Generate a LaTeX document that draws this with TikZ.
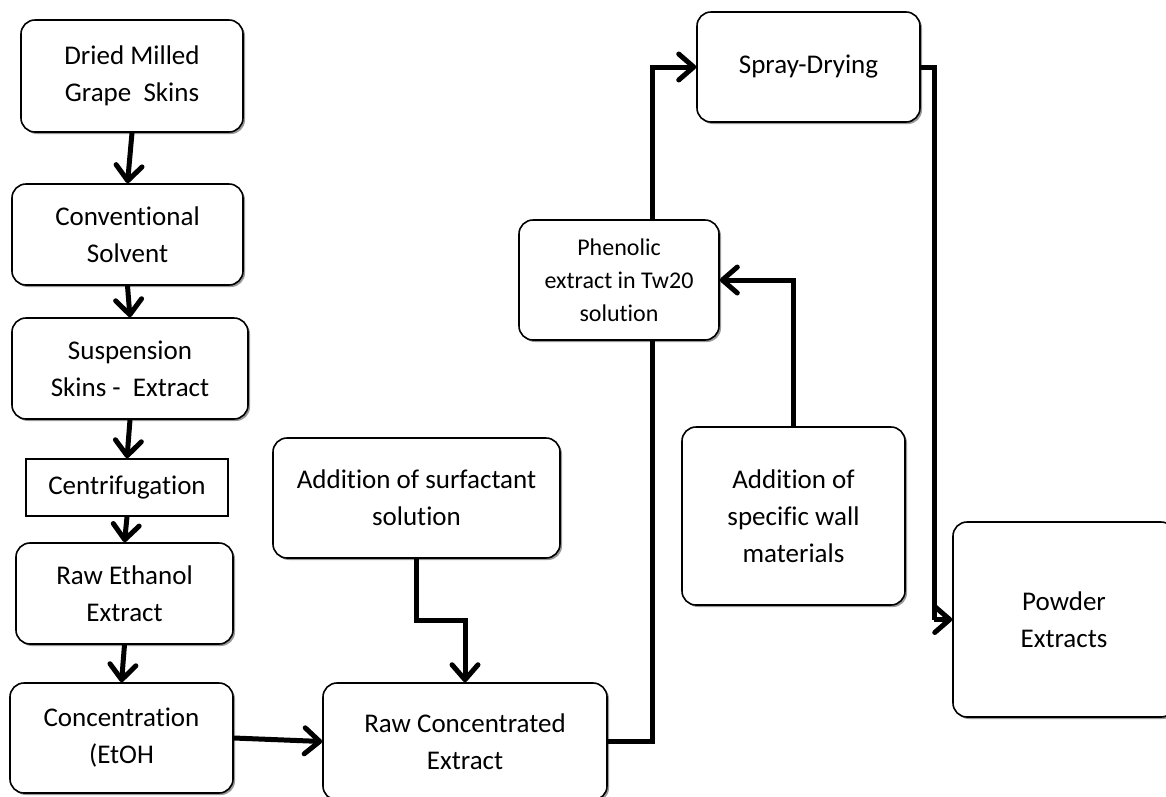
\documentclass[tikz,border=0pt]{standalone}
\usepackage{fontspec}
\setmainfont{Carlito}[Ligatures={NoCommon,NoContextual}]
\usetikzlibrary{arrows.meta,shadows,calc}
\tikzset{
  box/.style={draw=black, line width=1.6pt, fill=white, rounded corners=14pt,
    align=center, inner sep=2pt,
    font=\fontsize{27}{37}\selectfont,
    drop shadow={shadow xshift=2pt, shadow yshift=-2pt, fill=black!40, opacity=1}},
  sqbox/.style={draw=black, line width=1.6pt, fill=white, align=center,
    font=\fontsize{27}{37}\selectfont},
  small/.style={font=\fontsize{24}{33}\selectfont},
  conn/.style={line width=5pt, draw=black},
  arr/.style={conn, -{Straight Barb[length=15pt,width=26pt,round]}},
}
\begin{document}
\begin{tikzpicture}[x=1pt,y=-1pt]
\useasboundingbox (0,0) rectangle (1166,796);
\fill[white] (0,0) rectangle (1166,796);
\clip (0,0) rectangle (1166,796);

\node[box, minimum width=222pt, minimum height=112pt] (dried) at (132,76) {Dried Milled\\Grape\ \ Skins};
\node[box, minimum width=231pt, minimum height=101pt] (conv) at (127.5,234.5) {Conventional\\Solvent};
\node[box, minimum width=236pt, minimum height=101pt] (susp) at (130,368.5) {Suspension\\Skins -\ \ Extract};
\node[sqbox, minimum width=202pt, minimum height=57pt] (cent) at (127,487.5) {Centrifugation};
\node[box, minimum width=217pt, minimum height=101pt] (rawe) at (124.5,593.5) {Raw Ethanol\\Extract};
\node[box, minimum width=223pt, minimum height=110pt] (conc) at (121.5,738) {Concentration\\(EtOH};
\node[box, minimum width=287pt, minimum height=120pt] (surf) at (416.5,498) {Addition of surfactant\\solution};
\node[box, minimum width=284pt, minimum height=117pt] (rawc) at (465,741.5) {Raw Concentrated\\Extract};
\node[box, small, minimum width=200pt, minimum height=120pt] (phen) at (619,280) {Phenolic\\extract in Tw20\\solution};
\node[box, minimum width=223pt, minimum height=110pt] (spray) at (808.5,67) {Spray-Drying};
\node[box, minimum width=223pt, minimum height=178pt] (wall) at (793.5,516) {Addition of\\specific wall\\materials};
\node[box, minimum width=222pt, minimum height=195pt] (powder) at (1064,619.5) {Powder\\Extracts};

\draw[arr] (dried.south) -- (conv.north);
\draw[arr] (conv.south) -- (susp.north);
\draw[arr] (susp.south) -- (cent.north);
\draw[arr] (cent.south) -- (rawe.north);
\draw[arr] (rawe.south) -- (conc.north);
\draw[arr] (conc.east) -- (rawc.west);
\draw[arr] (surf.south) -- ++(0,62) -| (rawc.north);
\draw[conn] (rawc.east) -| ([xshift=33pt]phen.south);
\draw[arr] ([xshift=33pt]phen.north) |- (spray.west);
\draw[arr] (wall.north) |- (phen.east);
\coordinate (pk) at ($(powder.west)+(-18,0)$);
\draw[conn] (spray.east) -| (pk);
\draw[arr] (pk) -- (powder.west);
\end{tikzpicture}
\end{document}
